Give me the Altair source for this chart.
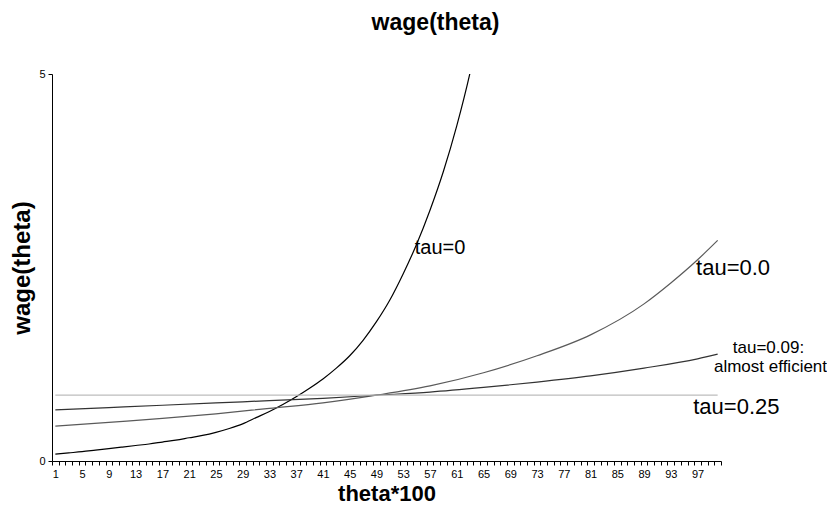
import altair as alt
import pandas as pd

# ---- data ----
series_names = ["tau=0", "tau=0.0", "tau=0.09", "tau=0.25"]
series_colors = ["#000000", "#5a5a5a", "#333333", "#bdbdbd"]

theta_tau0 = [1, 3, 5, 7, 9, 11, 13, 15, 17, 19, 21, 23, 25, 27, 29, 31, 33, 35,
              37, 39, 41, 43, 45, 47, 49, 51, 53, 55, 57, 59, 61, 63, 65]
wage_tau0 = [0.09, 0.105, 0.12, 0.14, 0.16, 0.18, 0.20, 0.22, 0.245, 0.27, 0.30, 0.33,
             0.37, 0.42, 0.48, 0.56, 0.64, 0.73, 0.83, 0.94, 1.06, 1.20, 1.36, 1.56,
             1.80, 2.08, 2.42, 2.80, 3.24, 3.74, 4.33, 5.02, 5.85]

theta_tau00 = [1, 9, 17, 25, 33, 41, 49, 57, 65, 73, 81, 89, 93, 97, 100]
wage_tau00 = [0.45, 0.50, 0.55, 0.61, 0.68, 0.75, 0.85, 0.97, 1.14, 1.36, 1.63, 2.03,
              2.30, 2.60, 2.85]

theta_tau009 = [1, 9, 17, 25, 33, 41, 49, 57, 65, 73, 81, 89, 97, 100]
wage_tau009 = [0.66, 0.69, 0.72, 0.75, 0.78, 0.81, 0.85, 0.89, 0.95, 1.02, 1.10, 1.20,
               1.32, 1.38]

theta_tau025 = [1, 25, 50, 75, 100]
wage_tau025 = [0.85, 0.85, 0.85, 0.85, 0.85]

label_texts = ["tau=0", "tau=0.0", "tau=0.09:", "almost efficient", "tau=0.25"]
label_theta = [58.5, 102.3, 107.6, 107.9, 102.8]
label_wage = [2.75, 2.49, 1.46, 1.21, 0.70]
label_sizes = [20, 22, 17, 17, 22]

x_tick_labels = list(range(1, 101, 4))
y_tick_values = [0, 5]

# ---- build tables ----
rows = []
for name, xs, ys in [("tau=0", theta_tau0, wage_tau0),
                     ("tau=0.0", theta_tau00, wage_tau00),
                     ("tau=0.09", theta_tau009, wage_tau009),
                     ("tau=0.25", theta_tau025, wage_tau025)]:
    for xv, yv in zip(xs, ys):
        rows.append({"series": name, "theta": xv, "wage": yv})
df = pd.DataFrame(rows)

labels_df = pd.DataFrame({"text": label_texts, "theta": label_theta,
                          "wage": label_wage, "size": label_sizes})

FONT = "Liberation Sans"
boundary_ticks = [k + 0.5 for k in range(0, 101)]
label_set = ",".join(str(v) for v in x_tick_labels)

x_scale = alt.Scale(domain=[0.5, 100.5], nice=False, zero=False)
y_scale = alt.Scale(domain=[0, 5], nice=False)

x_axis = alt.Axis(
    title="theta*100",
    values=boundary_ticks,
    labelExpr=f"indexof([{label_set}], datum.value + 0.5) >= 0 ? '' + (datum.value + 0.5) : ''",
    labelOffset=3.35,
    labelFlush=False,
    labelOverlap=False,
    labelBound=False,
    grid=False,
    tickSize=4,
    tickColor="black",
    domainColor="black",
    labelFont=FONT,
    labelFontSize=11,
    labelColor="black",
    labelPadding=3,
    titleFont=FONT,
    titleFontSize=22,
    titleFontWeight="bold",
    titleColor="black",
    titlePadding=4,
)
y_axis = alt.Axis(
    title="wage(theta)",
    values=y_tick_values,
    format="d",
    grid=False,
    tickSize=4,
    tickColor="black",
    domainColor="black",
    labelFont=FONT,
    labelFontSize=11,
    labelColor="black",
    labelPadding=3,
    titleFont=FONT,
    titleFontSize=24,
    titleFontWeight="bold",
    titleColor="black",
    titlePadding=4,
)

lines = alt.Chart(df).mark_line(strokeWidth=1.2, clip=True, interpolate="monotone").encode(
    x=alt.X("theta:Q", scale=x_scale, axis=x_axis),
    y=alt.Y("wage:Q", scale=y_scale, axis=y_axis),
    color=alt.Color("series:N", scale=alt.Scale(domain=series_names, range=series_colors),
                    legend=None),
    detail="series:N",
)

texts = alt.Chart(labels_df).mark_text(font=FONT, color="black", align="center",
                                       baseline="middle", clip=False).encode(
    x=alt.X("theta:Q", scale=x_scale, axis=x_axis),
    y=alt.Y("wage:Q", scale=y_scale, axis=y_axis),
    text="text:N",
    size=alt.Size("size:Q", scale=None, legend=None),
)

chart = alt.layer(lines, texts).properties(
    width=669,
    height=387,
    title=alt.TitleParams("wage(theta)", font=FONT, fontSize=23, fontWeight="bold",
                          color="black", anchor="middle", dx=49, offset=33),
    autosize=alt.AutoSizeParams(type="none"),
    padding={"left": 44, "top": 66, "right": 106, "bottom": 47},
    view=alt.ViewBackground(stroke="transparent"),
).configure_view(stroke="transparent").configure(background="white")

chart.save("out.html", embed_options={"renderer": "svg", "actions": False})
